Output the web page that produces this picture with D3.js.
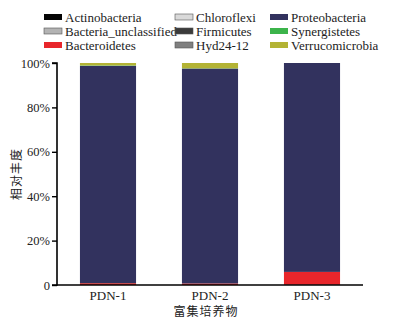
<!DOCTYPE html>
<html>
<head>
<meta charset="utf-8">
<script src="https://cdn.jsdelivr.net/npm/d3@7"></script>
<style>
  body { margin: 0; background: #fff; }
</style>
</head>
<body>
<div id="chart"></div>
<script>
const samples = ['PDN-1', 'PDN-2', 'PDN-3']
const phyla = ['Actinobacteria', 'Bacteria_unclassified', 'Bacteroidetes', 'Chloroflexi', 'Firmicutes',
  'Hyd24-12', 'Proteobacteria', 'Synergistetes', 'Verrucomicrobia']
const colors = ['#050505', '#b3b3b3', '#e8262b', '#d9d9d9', '#3b3b3b', '#7f7f7f', '#32325e', '#3cb44b', '#b3b334']
// percent per phylum, one value per sample
const Actinobacteria = [0.0, 0.0, 0.1]
const Bacteria_unclassified = [0.0, 0.0, 0.0]
const Bacteroidetes = [0.8, 0.7, 5.8]
const Chloroflexi = [0.0, 0.0, 0.0]
const Firmicutes = [0.1, 0.0, 0.0]
const Hyd24_12 = [0.0, 0.0, 0.0]
const Proteobacteria = [97.8, 96.8, 94.1]
const Synergistetes = [0.2, 0.1, 0.0]
const Verrucomicrobia = [1.1, 2.4, 0.0]
const yTicks = [0, 20, 40, 60, 80, 100]

const values = [Actinobacteria, Bacteria_unclassified, Bacteroidetes, Chloroflexi, Firmicutes,
  Hyd24_12, Proteobacteria, Synergistetes, Verrucomicrobia]
const table = samples.map((s, i) => {
  const row = { sample: s }
  phyla.forEach((p, j) => row[p] = values[j][i])
  return row
})

const serif = '"Liberation Serif", "Times New Roman", serif'
const cjk = '"Noto Sans CJK SC", sans-serif'

const W = 393, H = 324
const margin = { top: 63, right: 30, bottom: 39, left: 57 }
const width = W - margin.left - margin.right
const height = H - margin.top - margin.bottom

const svg = d3.select('#chart').append('svg')
  .attr('width', W).attr('height', H)
const g = svg.append('g').attr('transform', `translate(${margin.left},${margin.top})`)

const x = d3.scaleBand().domain(samples).range([0, width]).paddingInner(0.45).paddingOuter(0.225)
const y = d3.scaleLinear().domain([0, 100]).range([height, 0])
const color = d3.scaleOrdinal().domain(phyla).range(colors)

const stack = d3.stack().keys(phyla)(table)

g.selectAll('g.layer')
  .data(stack)
  .enter().append('g')
  .attr('class', 'layer')
  .attr('fill', d => color(d.key))
  .selectAll('rect')
  .data(d => d)
  .enter().append('rect')
  .attr('x', d => x(d.data.sample))
  .attr('y', d => y(d[1]))
  .attr('width', x.bandwidth())
  .attr('height', d => y(d[0]) - y(d[1]))

// axes
const yAxis = g.append('g')
  .call(d3.axisLeft(y).tickValues(yTicks).tickSize(5).tickFormat(d => d === 0 ? '0' : d + '%'))
yAxis.select('.domain').attr('stroke-width', 1.6).attr('d', `M-5,0H0V${height}H-5`)
yAxis.selectAll('.tick line').attr('stroke-width', 1.4)
yAxis.selectAll('.tick text')
  .style('font-family', serif).style('font-size', '12.5px')
  .attr('fill', '#222').attr('x', -7)

const xAxis = g.append('g')
  .attr('transform', `translate(0,${height})`)
  .call(d3.axisBottom(x).tickSize(0).tickPadding(6))
xAxis.select('.domain').attr('stroke-width', 1.6).attr('d', `M0,0H${width}`)
xAxis.selectAll('.tick text')
  .style('font-family', serif).style('font-size', '13px')
  .attr('fill', '#222')

svg.append('text')
  .attr('transform', `translate(21,${margin.top + height / 2}) rotate(-90)`)
  .attr('text-anchor', 'middle')
  .style('font-family', cjk).style('font-size', '12px')
  .style('letter-spacing', '1px')
  .attr('fill', '#222')
  .text('相对丰度')

svg.append('text')
  .attr('x', margin.left + width / 2 - 4)
  .attr('y', 316)
  .attr('text-anchor', 'middle')
  .style('font-family', cjk).style('font-size', '12px')
  .style('letter-spacing', '1px')
  .attr('fill', '#222')
  .text('富集培养物')

// legend, 3 columns x 3 rows
const colX = [44, 175, 270]
const legend = svg.append('g')
const item = legend.selectAll('g')
  .data(phyla)
  .enter().append('g')
  .attr('transform', (d, i) => `translate(${colX[Math.floor(i / 3)]},${13 + (i % 3) * 14})`)
item.append('rect')
  .attr('width', 18).attr('height', 6).attr('y', 1)
  .attr('fill', d => color(d))
  .attr('stroke', d => ['Bacteria_unclassified', 'Chloroflexi', 'Hyd24-12', 'Firmicutes'].includes(d) ? '#555' : 'none')
  .attr('stroke-width', 0.6)
item.append('text')
  .attr('x', 21).attr('y', 8.5)
  .style('font-family', serif).style('font-size', '13px')
  .attr('fill', '#222')
  .text(d => d)
</script>
</body>
</html>
